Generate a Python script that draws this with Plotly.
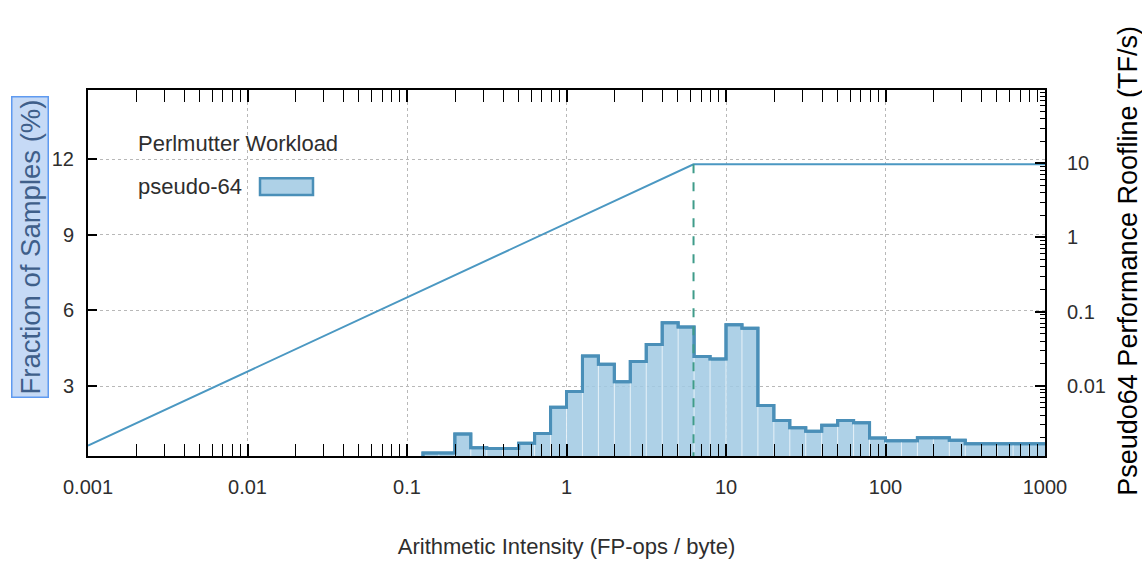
import plotly.graph_objects as go

# ---------------- data ----------------
# histogram bins: log10 of bin edges (0.1 decade bins)
bin_edge_exp = [-0.9, -0.8, -0.7, -0.6, -0.5, -0.4, -0.3, -0.2, -0.1, 0.0,
                0.1, 0.2, 0.3, 0.4, 0.5, 0.6, 0.7, 0.8, 0.9, 1.0,
                1.1, 1.2, 1.3, 1.4, 1.5, 1.6, 1.7, 1.8, 1.9, 2.0,
                2.1, 2.2, 2.3, 2.4, 2.5, 2.6, 2.7, 2.8, 2.9, 3.0]
# fraction of samples (%) per bin
fraction_pct = [0.35, 0.35, 1.10, 0.56, 0.53, 0.53, 0.74, 1.12, 2.16, 2.79,
                4.19, 3.87, 3.17, 3.98, 4.65, 5.51, 5.34, 4.17, 4.08, 5.43,
                5.29, 2.23, 1.64, 1.35, 1.21, 1.45, 1.64, 1.55, 0.94, 0.83,
                0.83, 0.95, 0.95, 0.85, 0.72, 0.72, 0.72, 0.72, 0.72]

# roofline (TF/s)
peak_tfs = 9.7
bandwidth_tbs = 1.55
ai_min, ai_max = 0.001, 1000

series_name = "pseudo-64"
legend_title = "Perlmutter Workload"
x_title = "Arithmetic Intensity (FP-ops / byte)"
y_title = "Fraction of Samples (%)"
y2_title = "Pseudo64 Performance Roofline (TF/s)"
y_ticks = [3, 6, 9, 12]

# ---------------- styles ----------------
FILL = "rgba(160,201,227,0.85)"
EDGE = "#4a8fb8"
ROOF = "#4b98c2"
DASH = "#3f9c8a"
NARROW = "Liberation Sans Narrow, Liberation Sans, Arial, sans-serif"
SANS = "Liberation Sans, Arial, sans-serif"
TXT = "#2e2e2e"

edges = [10 ** e for e in bin_edge_exp]

fig = go.Figure()

# histogram fill + outline (step)
step_x = [edges[0]] + edges
step_y = [0] + fraction_pct + [fraction_pct[-1]]
fig.add_trace(go.Scatter(x=step_x, y=step_y, mode="lines", line=dict(shape="hv", color=EDGE, width=3),
                         fill="tozeroy", fillcolor=FILL, showlegend=False, hoverinfo="skip"))

# faint internal bin separators
sep_x, sep_y = [], []
for i in range(1, len(fraction_pct)):
    h = min(fraction_pct[i - 1], fraction_pct[i])
    sep_x += [edges[i], edges[i], None]
    sep_y += [0, h - 0.05, None]
fig.add_trace(go.Scatter(x=sep_x, y=sep_y, mode="lines", line=dict(color="rgba(255,255,255,0.7)", width=1),
                         showlegend=False, hoverinfo="skip"))
# redraw outline on top
fig.add_trace(go.Scatter(x=step_x, y=step_y, mode="lines", line=dict(shape="hv", color=EDGE, width=3),
                         showlegend=False, hoverinfo="skip"))

# roofline on secondary axis
ridge = peak_tfs / bandwidth_tbs
fig.add_trace(go.Scatter(x=[ai_min, ridge, ai_max], y=[bandwidth_tbs * ai_min, peak_tfs, peak_tfs],
                         mode="lines", line=dict(color=ROOF, width=2), yaxis="y2",
                         showlegend=False, hoverinfo="skip"))
fig.add_trace(go.Scatter(x=[ridge, ridge], y=[peak_tfs, 1e-4], mode="lines",
                         line=dict(color=DASH, width=2, dash="dash"), yaxis="y2",
                         showlegend=False, hoverinfo="skip"))

tickfont = dict(family=NARROW, size=20, color=TXT)

fig.update_layout(
    width=1142, height=567,
    margin=dict(l=88, r=97, t=90, b=104),
    paper_bgcolor="white", plot_bgcolor="white",
    xaxis=dict(type="log", range=[-3, 3], dtick=1, exponentformat="none",
               showline=True, linecolor="black", linewidth=2, mirror="allticks",
               ticks="inside", ticklen=12, tickwidth=1.5, tickcolor="black",
               minor=dict(dtick="D1", ticks="inside", ticklen=7, tickwidth=1.2, tickcolor="black", showgrid=False),
               showgrid=True, gridcolor="#b8b8b8", griddash="dot", gridwidth=1,
               tickfont=tickfont, ticklabelstandoff=12,
               title=dict(text=x_title, font=dict(family=NARROW, size=22, color=TXT), standoff=42),
               zeroline=False),
    yaxis=dict(range=[0.23, 14.74], tickvals=y_ticks, showline=True, linecolor="black", linewidth=2,
               ticks="inside", ticklen=9, tickwidth=1.5, tickcolor="black",
               showgrid=True, gridcolor="#b8b8b8", griddash="dot", gridwidth=1,
               tickfont=tickfont, ticklabelstandoff=8, zeroline=False),
    yaxis2=dict(type="log", range=[-2.95, 1.99], dtick=1, exponentformat="none", overlaying="y", side="right",
                showline=True, linecolor="black", linewidth=2,
                ticks="inside", ticklen=10, tickwidth=1.5, tickcolor="black",
                minor=dict(dtick="D1", ticks="inside", ticklen=5, tickwidth=1.2, tickcolor="black", showgrid=False),
                showgrid=False, tickfont=tickfont, ticklabelstandoff=16, zeroline=False),
    showlegend=False,
)

H = 373.0  # plot height (px) used for paper-coordinate placement of text
W = 957.0

def px_x(p):
    return (p - 88) / W

def px_y(p):
    return (463 - p) / H

# left y title in highlighted box
fig.add_annotation(xref="paper", yref="paper", x=px_x(30), y=px_y(250), xanchor="center", yanchor="middle",
                   text=y_title, textangle=-90, showarrow=False,
                   font=dict(family=SANS, size=27.5, color="#3f5f8a"),
                   bgcolor="#c6daf6", bordercolor="#5f9af0", borderwidth=1.5, borderpad=2)
# right y title
fig.add_annotation(xref="paper", yref="paper", x=px_x(1128), y=px_y(264), xanchor="center", yanchor="middle",
                   text=y2_title, textangle=-90, showarrow=False,
                   font=dict(family=SANS, size=27, color="black"))

# legend (text + swatch)
fig.add_annotation(xref="paper", yref="paper", x=px_x(136), y=px_y(145), xanchor="left", yanchor="middle",
                   text=legend_title, showarrow=False, font=dict(family=NARROW, size=22, color=TXT))
fig.add_annotation(xref="paper", yref="paper", x=px_x(136), y=px_y(188), xanchor="left", yanchor="middle",
                   text=series_name, showarrow=False, font=dict(family=NARROW, size=22, color=TXT))
fig.add_shape(type="rect", xref="paper", yref="paper", x0=px_x(260), x1=px_x(313), y0=px_y(197), y1=px_y(180),
              fillcolor=FILL, line=dict(color=EDGE, width=2.5))

fig.write_html("out.html", config={"displayModeBar": False},
               post_script="document.body.style.margin='0';")
